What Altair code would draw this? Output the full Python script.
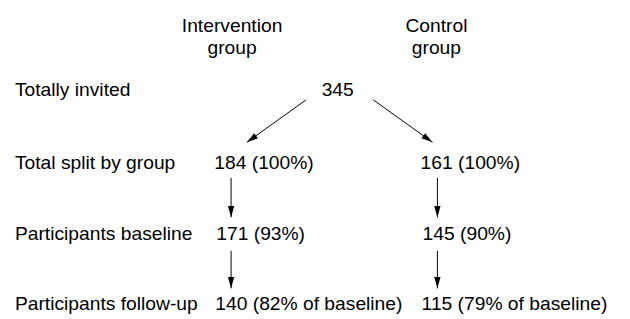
import math
import altair as alt
import pandas as pd

# ---- data ----
group_names = ["Intervention", "Control"]
row_labels = ["Totally invited", "Total split by group",
              "Participants baseline", "Participants follow-up"]
total_invited = 345
intervention_n = [184, 171, 140]
intervention_pct = [100, 93, 82]
control_n = [161, 145, 115]
control_pct = [100, 90, 79]

# ---- layout (pixel coordinates of the page) ----
header_x = [235, 442]
header_y1, header_y2 = 30, 53
row_y = [95, 169, 241, 312]
label_x = 15
total_x = 342
left_x = [217, 219, 218]
right_x = [426, 428, 427]
arrows = [  # (x1, y1, x2, y2): tip at (x2, y2)
    (310, 99, 250, 142),
    (378, 99, 438, 142),
    (234, 178, 234, 218),
    (234, 252, 234, 290),
    (443, 178, 443, 218),
    (443, 252, 443, 290),
]

FONT = "Liberation Sans"
FS = 19.5


def fmt(n, p, i):
    return f"{n} ({p}% of baseline)" if i == 2 else f"{n} ({p}%)"


texts = []
for gx, g in zip(header_x, group_names):
    texts.append(dict(x=gx, y=header_y1, t=g, a="center"))
    texts.append(dict(x=gx, y=header_y2, t="group", a="center"))
for ry, lab in zip(row_y, row_labels):
    texts.append(dict(x=label_x, y=ry, t=lab, a="left"))
texts.append(dict(x=total_x, y=row_y[0], t=str(total_invited), a="center"))
for i in range(3):
    texts.append(dict(x=left_x[i], y=row_y[i + 1],
                      t=fmt(intervention_n[i], intervention_pct[i], i), a="left"))
    texts.append(dict(x=right_x[i], y=row_y[i + 1],
                      t=fmt(control_n[i], control_pct[i], i), a="left"))
tdf = pd.DataFrame(texts)

adf = pd.DataFrame(arrows, columns=["x1", "y1", "x2", "y2"])
adf["angle"] = [
    (math.degrees(math.atan2(-(x2 - x1), (y2 - y1))) + 360) % 360
    for x1, y1, x2, y2 in arrows
]

W, H = 622, 311
xs = alt.Scale(domain=[8, 8 + W], nice=False, zero=False)
ys = alt.Scale(domain=[8, 8 + H], nice=False, zero=False, reverse=True)

base_text = alt.Chart(tdf).encode(
    x=alt.X("x:Q", scale=xs, axis=None),
    y=alt.Y("y:Q", scale=ys, axis=None),
    text="t:N",
)
left_text = base_text.transform_filter(alt.datum.a == "left").mark_text(
    align="left", baseline="alphabetic", font=FONT, fontSize=FS, color="black")
center_text = base_text.transform_filter(alt.datum.a == "center").mark_text(
    align="center", baseline="alphabetic", font=FONT, fontSize=FS, color="black")

lines = alt.Chart(adf).mark_rule(color="black", strokeWidth=1).encode(
    x=alt.X("x1:Q", scale=xs, axis=None),
    y=alt.Y("y1:Q", scale=ys, axis=None),
    x2="x2:Q",
    y2="y2:Q",
)
heads = alt.Chart(adf).mark_point(
    shape="M0,0L-0.28,-1L0.28,-1Z", filled=True, size=520, color="black",
    opacity=1, strokeWidth=0,
).encode(
    x=alt.X("x2:Q", scale=xs, axis=None),
    y=alt.Y("y2:Q", scale=ys, axis=None),
    angle=alt.Angle("angle:Q", scale=None),
)

chart = alt.layer(lines, heads, left_text, center_text).properties(
    width=W, height=H,
    background="white",
    autosize=alt.AutoSizeParams(type="none"),
    padding=0,
).configure_view(strokeWidth=0)

chart.save("out.html", embed_options={"renderer": "svg", "actions": False})
